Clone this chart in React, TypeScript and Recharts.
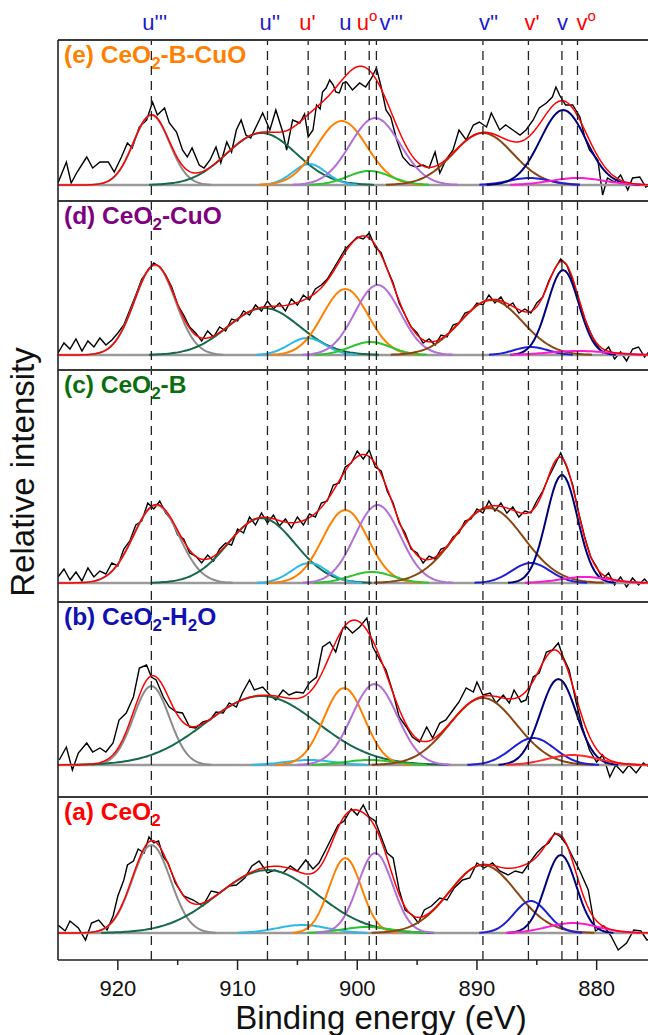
import React from "react";
import { LineChart, Line, XAxis, YAxis, ReferenceLine } from "recharts";

const FONT = 'Arial, "Liberation Sans", Helvetica, sans-serif';

// peak assignment lines (eV)
const PEAK_BASE = ["u", "u", "u", "u", "u", "v", "v", "v", "v", "v"];
const PEAK_MARK = ["'''", "''", "'", "", "o", "'''", "''", "'", "", "o"];
const PEAK_EV = [917.2, 907.5, 904.1, 901.0, 899.0, 898.4, 889.5, 885.7, 882.9, 881.6];
const PEAK_LABEL_COLOR = ["#1a1acd", "#1a1acd", "#ff0000", "#1a1acd", "#ff0000", "#1a1acd", "#1a1acd", "#ff0000", "#1a1acd", "#ff0000"];
const PEAK_LABEL_DX = [-9, -8, -9, -6, 8, 3, -4, -4, -5, -1];

// component colours: u''', u'', u', u, u0, v''', v'', v', v, v0
const COMPONENT_COLORS = ["#8c8c8c", "#17694a", "#2bb9ea", "#ff8000", "#2dc42d", "#b36fd8", "#8b4513", "#1f1fd6", "#00007f", "#ff1ad1"];

const X_TICKS = [880, 885, 890, 895, 900, 905, 910, 915, 920];

// (e) CeO2-B-CuO
const E_CENTER = [917.2, 908.0, 904.0, 901.3, 899.0, 898.5, 889.5, 885.6, 882.8, 881.6];
const E_HEIGHT = [70, 52, 21, 64, 14, 67, 52, 7, 75, 7];
const E_SIGMA = [1.5, 2.9, 1.4, 2.1, 1.8, 2.1, 2.5, 1.7, 1.9, 2.2];
const E_RAW_EV = [925.0, 924.3, 923.9, 923.4, 922.6, 922.1, 921.5, 920.8, 920.3, 919.7, 919.2, 918.8, 918.2, 917.6, 917.1, 916.7, 916.1, 915.7, 915.1, 914.6, 914.2, 913.8, 913.2, 912.8, 912.3, 911.8, 911.4, 910.9, 910.5, 910.1, 909.7, 909.3, 908.9, 908.3, 907.9, 907.3, 906.8, 906.2, 905.9, 905.4, 904.8, 904.4, 904.1, 903.7, 903.4, 903.1, 902.9, 902.6, 902.3, 902.0, 901.8, 901.5, 901.2, 900.9, 900.4, 899.8, 899.3, 898.8, 898.4, 898.0, 897.6, 897.2, 896.7, 896.2, 895.6, 895.1, 894.5, 894.0, 893.5, 893.1, 892.6, 892.0, 891.5, 890.9, 890.3, 889.8, 889.2, 888.8, 888.1, 887.6, 887.0, 886.4, 885.9, 885.3, 884.8, 884.2, 883.7, 883.4, 883.1, 882.6, 882.0, 881.4, 881.0, 880.6, 879.9, 879.5, 879.1, 878.5, 878.0, 877.4, 877.0, 876.4, 875.9, 875.0];
const E_RAW_I = [2, 23, 2, 13, 28, 17, 23, 23, 13, 28, 42, 37, 58, 65, 83, 70, 77, 62, 53, 35, 28, 37, 20, 17, 25, 38, 22, 43, 33, 55, 65, 50, 47, 62, 72, 55, 75, 52, 35, 65, 62, 71, 48, 55, 80, 76, 93, 97, 105, 100, 93, 92, 102, 103, 95, 102, 98, 107, 117, 98, 75, 68, 45, 28, 20, 18, 20, 17, 33, 12, 25, 35, 55, 45, 60, 63, 58, 72, 55, 60, 55, 50, 55, 65, 77, 82, 88, 98, 90, 80, 80, 68, 48, 35, 25, -10, 7, 3, 10, -5, 7, 8, -2, 3];

// half-eV grid used for the (d) and (c) raw spectra
const HALF_EV = [925, 924.5, 924, 923.5, 923, 922.5, 922, 921.5, 921, 920.5, 920, 919.5, 919, 918.5, 918, 917.5, 917, 916.5, 916, 915.5, 915, 914.5, 914, 913.5, 913, 912.5, 912, 911.5, 911, 910.5, 910, 909.5, 909, 908.5, 908, 907.5, 907, 906.5, 906, 905.5, 905, 904.5, 904, 903.5, 903, 902.5, 902, 901.5, 901, 900.5, 900, 899.5, 899, 898.5, 898, 897.5, 897, 896.5, 896, 895.5, 895, 894.5, 894, 893.5, 893, 892.5, 892, 891.5, 891, 890.5, 890, 889.5, 889, 888.5, 888, 887.5, 887, 886.5, 886, 885.5, 885, 884.5, 884, 883.5, 883, 882.5, 882, 881.5, 881, 880.5, 880, 879.5, 879, 878.5, 878, 877.5, 877, 876.5, 876, 875.5, 875];

// (d) CeO2-CuO
const D_CENTER = [916.9, 907.8, 904.2, 901.0, 898.9, 898.3, 888.8, 885.5, 882.8, 881.5];
const D_HEIGHT = [90, 47, 17, 66, 13, 70, 55, 8, 85, 4];
const D_SIGMA = [1.7, 3.0, 1.5, 1.9, 1.7, 1.9, 2.6, 1.4, 1.3, 2.5];
const D_RAW_I = [2, 12, 6, 16, 4, 14, 8, 17, 10, 15, 22, 30, 45, 60, 76, 84, 92, 88, 80, 68, 50, 40, 28, 22, 14, 24, 18, 28, 24, 36, 34, 44, 40, 50, 44, 54, 46, 52, 44, 56, 50, 60, 55, 66, 70, 76, 86, 96, 106, 112, 118, 116, 122, 108, 102, 86, 72, 52, 40, 28, 22, 12, 16, 10, 20, 18, 30, 32, 42, 44, 52, 50, 60, 52, 58, 48, 52, 42, 46, 42, 52, 58, 74, 86, 96, 90, 74, 56, 36, 22, 10, 2, 8, -4, 3, -6, 6, 8, -2, 5, 0];

// (c) CeO2-B
const C_CENTER = [916.8, 908.0, 904.0, 901.0, 898.8, 898.3, 889.0, 885.5, 882.9, 881.0];
const C_HEIGHT = [78, 65, 20, 73, 11, 78, 75, 20, 108, 6];
const C_SIGMA = [1.9, 2.8, 1.5, 1.9, 1.8, 1.9, 2.9, 1.6, 1.3, 2.0];
const C_RAW_I = [6, 14, 3, 11, 2, 15, 6, 12, 9, 20, 17, 34, 42, 58, 62, 80, 74, 82, 70, 63, 48, 44, 30, 27, 20, 28, 22, 34, 40, 38, 54, 50, 66, 58, 70, 60, 68, 57, 64, 55, 66, 58, 69, 66, 80, 82, 98, 100, 116, 120, 132, 124, 133, 116, 112, 92, 80, 60, 50, 34, 30, 20, 27, 24, 34, 36, 46, 50, 62, 64, 74, 70, 82, 72, 80, 70, 76, 66, 72, 70, 82, 92, 106, 118, 130, 116, 98, 70, 46, 26, 16, 4, 10, -2, 6, -4, 5, -2, 4, -3, 2];

// (b) CeO2-H2O
const B_CENTER = [917.2, 908.0, 904.0, 901.1, 899.0, 898.55, 889.5, 885.3, 883.2, 882.0];
const B_HEIGHT = [79, 69, 5, 77, 5, 81, 67, 27, 86, 10];
const B_SIGMA = [1.5, 4.7, 2.0, 1.7, 2.0, 1.9, 2.8, 1.8, 1.5, 2.1];
const B_RAW_EV = [924.9, 924.3, 923.8, 923.3, 922.6, 922.1, 921.5, 921.0, 920.4, 919.9, 919.3, 918.7, 918.2, 917.6, 917.2, 916.8, 916.2, 915.7, 915.1, 914.6, 914.0, 913.5, 912.9, 912.3, 911.8, 911.2, 910.7, 910.1, 909.6, 909.0, 908.6, 907.9, 907.3, 906.8, 906.2, 905.7, 905.1, 904.5, 904.0, 903.4, 902.9, 902.3, 901.8, 901.2, 900.9, 900.4, 899.8, 899.2, 898.7, 898.1, 897.6, 897.0, 896.5, 895.9, 895.4, 894.8, 894.2, 893.7, 893.1, 892.6, 892.0, 891.5, 890.9, 890.3, 890.0, 889.5, 888.9, 888.4, 887.8, 887.3, 886.9, 886.3, 885.9, 885.3, 884.8, 884.2, 883.7, 883.2, 882.8, 882.3, 881.7, 881.2, 880.6, 880.0, 879.5, 878.9, 878.4, 877.8, 877.3, 876.7, 876.1, 875.5];
const B_RAW_I = [5, 18, -5, 12, 22, 13, 17, 13, 22, 45, 52, 68, 97, 100, 88, 85, 68, 58, 53, 52, 38, 37, 43, 45, 53, 52, 62, 58, 72, 85, 75, 78, 70, 65, 75, 70, 73, 72, 82, 88, 118, 123, 113, 137, 138, 132, 138, 147, 118, 105, 95, 72, 48, 38, 28, 23, 38, 27, 42, 45, 55, 63, 77, 73, 83, 70, 72, 62, 70, 62, 75, 63, 65, 88, 92, 113, 115, 122, 108, 95, 62, 38, 15, 3, 10, -12, 0, -8, 0, -8, 2, -3];

// (a) CeO2
const A_CENTER = [917.2, 907.5, 904.6, 901.0, 899.2, 898.5, 889.5, 885.5, 883.0, 882.0];
const A_HEIGHT = [88, 63, 8, 75, 6, 80, 68, 32, 78, 10];
const A_SIGMA = [1.6, 4.2, 2.1, 1.35, 2.0, 1.45, 2.8, 1.4, 1.3, 2.1];
const A_RAW_EV = [925.0, 924.4, 924.0, 923.3, 922.7, 922.2, 921.6, 920.9, 920.4, 920.0, 919.5, 919.2, 918.7, 918.3, 917.8, 917.4, 917.0, 916.6, 916.2, 915.8, 915.2, 914.5, 913.7, 912.9, 912.2, 911.5, 910.7, 910.1, 909.4, 908.8, 908.2, 907.5, 906.9, 906.2, 905.6, 905.0, 904.3, 903.7, 903.2, 902.6, 902.1, 901.6, 901.1, 900.5, 900.0, 899.5, 899.0, 898.5, 898.0, 897.5, 897.0, 896.5, 896.0, 895.4, 894.9, 894.4, 893.8, 893.1, 892.5, 891.9, 891.2, 890.6, 890.0, 889.4, 888.7, 888.1, 887.4, 886.8, 886.2, 885.5, 885.0, 884.5, 884.0, 883.5, 883.0, 882.5, 882.0, 881.4, 880.7, 880.1, 879.4, 878.8, 878.2, 877.5, 876.9, 876.3, 875.8, 875.0];
const A_RAW_I = [8, 2, 12, 5, -7, 10, 13, 3, 17, 37, 53, 68, 72, 84, 80, 96, 90, 92, 76, 70, 50, 37, 33, 27, 42, 40, 47, 48, 55, 67, 72, 60, 63, 60, 67, 62, 73, 64, 70, 84, 96, 108, 112, 124, 118, 128, 116, 112, 96, 80, 75, 43, 23, 18, 10, 23, 27, 35, 33, 45, 53, 55, 70, 65, 70, 62, 58, 62, 60, 72, 80, 86, 90, 100, 96, 88, 76, 62, 43, 2, 7, -3, -17, -10, 3, 2, -7, -2];

// flat background under every panel
const BASELINE_EV = [875, 925];
const BASELINE_I = [0, 0];

// layout of the stacked frames (px)
const PLOT_TOP = 40;
const PLOT_BOTTOM = 960;
const PLOT_LEFT = 58;
const PLOT_WIDTH = 598.5;

type Panel = {
  id: string;
  parts: [string, boolean][];
  color: string;
  top: number;
  base: number;
  center: number[];
  height: number[];
  sigma: number[];
  rawEv: number[];
  rawI: number[];
  v0Color: string;
};

const PANELS: Panel[] = [
  { id: "e", parts: [["(e) CeO", false], ["2", true], ["-B-CuO", false]], color: "#ff8000", top: 40, base: 185, center: E_CENTER, height: E_HEIGHT, sigma: E_SIGMA, rawEv: E_RAW_EV, rawI: E_RAW_I, v0Color: "#ff1ad1" },
  { id: "d", parts: [["(d) CeO", false], ["2", true], ["-CuO", false]], color: "#800080", top: 201, base: 355, center: D_CENTER, height: D_HEIGHT, sigma: D_SIGMA, rawEv: HALF_EV, rawI: D_RAW_I, v0Color: "#ff1ad1" },
  { id: "c", parts: [["(c) CeO", false], ["2", true], ["-B", false]], color: "#0a6e0a", top: 370, base: 583, center: C_CENTER, height: C_HEIGHT, sigma: C_SIGMA, rawEv: HALF_EV, rawI: C_RAW_I, v0Color: "#ff1ad1" },
  { id: "b", parts: [["(b) CeO", false], ["2", true], ["-H", false], ["2", true], ["O", false]], color: "#1010b4", top: 602, base: 765, center: B_CENTER, height: B_HEIGHT, sigma: B_SIGMA, rawEv: B_RAW_EV, rawI: B_RAW_I, v0Color: "#ff2a2a" },
  { id: "a", parts: [["(a) CeO", false], ["2", true]], color: "#ff0000", top: 797, base: 933, center: A_CENTER, height: A_HEIGHT, sigma: A_SIGMA, rawEv: A_RAW_EV, rawI: A_RAW_I, v0Color: "#ff1ad1" },
];

// sampling grid for the fitted gaussian components
const GRID: number[] = [];
for (let i = 0; i <= 250; i++) GRID.push(875 + i * 0.2);

const baseline = BASELINE_EV.map((x, j) => ({ x, y: BASELINE_I[j] }));

const curves = PANELS.map((p) => {
  const full = p.center.map((c, k) =>
    GRID.map((x) => ({ x, y: p.height[k] * Math.exp(-((x - c) ** 2) / (2 * p.sigma[k] ** 2)) }))
  );
  const envelope = GRID.map((x, j) => ({ x, y: full.reduce((s, cc) => s + cc[j].y, 0) }));
  // draw each component only where it rises off the background
  const comps = full.map((pts) => pts.filter((pt) => pt.y > 0.25));
  const raw = p.rawEv.map((x, j) => ({ x, y: p.rawI[j] }));
  return { comps, envelope, raw };
});

const AxisTick = (props: any) => {
  const { x, y, payload } = props;
  const major = payload.value % 10 === 0;
  return (
    <g>
      <line x1={x} x2={x} y1={y} y2={y + (major ? 10 : 5)} stroke="#222" strokeWidth={1.5} />
      {major && (
        <text x={x} y={y + 36} textAnchor="middle" fontSize={22} fontFamily={FONT} fill="#111">
          {payload.value}
        </text>
      )}
    </g>
  );
};

const PeakLabel = (props: any) => {
  const { viewBox, i } = props;
  const x = viewBox.x + PEAK_LABEL_DX[i];
  const mark = PEAK_MARK[i];
  return (
    <text x={x} y={viewBox.y - 10} fontSize={22} fontFamily={FONT} fill={PEAK_LABEL_COLOR[i]} textAnchor={i === 4 ? "end" : "start"}>
      {PEAK_BASE[i]}
      {mark === "o" ? (
        <tspan dy={-9} fontSize={15}>o</tspan>
      ) : (
        mark
      )}
    </text>
  );
};

export default function App() {
  const lines: React.ReactNode[] = [];
  PANELS.forEach((p, pi) => {
    const c = curves[pi];
    lines.push(
      <Line key={`${p.id}-raw`} yAxisId={p.id} data={c.raw} dataKey="y" stroke="#000" strokeWidth={1.4} dot={false} isAnimationActive={false} type="linear" />
    );
    lines.push(
      <Line key={`${p.id}-bg`} yAxisId={p.id} data={baseline} dataKey="y" stroke="#9a9a9a" strokeWidth={2.6} dot={false} isAnimationActive={false} type="linear" />
    );
    c.comps.forEach((pts, k) => {
      lines.push(
        <Line
          key={`${p.id}-c${k}`}
          yAxisId={p.id}
          data={pts}
          dataKey="y"
          stroke={k === 9 ? p.v0Color : COMPONENT_COLORS[k]}
          strokeWidth={2}
          dot={false}
          isAnimationActive={false}
          type="linear"
        />
      );
    });
    lines.push(
      <Line key={`${p.id}-env`} yAxisId={p.id} data={c.envelope} dataKey="y" stroke="#ff0000" strokeWidth={1.5} dot={false} isAnimationActive={false} type="linear" />
    );
  });

  return (
    <div style={{ position: "absolute", left: 0, top: 0, width: 648, height: 1035, overflow: "hidden", background: "#fff" }}>
      <LineChart width={PLOT_LEFT + PLOT_WIDTH + 4} height={1035} margin={{ top: PLOT_TOP, right: 4, left: PLOT_LEFT, bottom: 0 }}>
        <XAxis
          dataKey="x"
          type="number"
          domain={[875, 925]}
          reversed
          allowDataOverflow
          ticks={X_TICKS}
          interval={0}
          tick={<AxisTick />}
          tickLine={false}
          tickSize={0}
          tickMargin={0}
          height={1035 - PLOT_BOTTOM}
          axisLine={{ stroke: "#222", strokeWidth: 1.6 }}
        />
        {PANELS.map((p) => (
          <YAxis key={p.id} yAxisId={p.id} hide type="number" allowDataOverflow domain={[-(PLOT_BOTTOM - p.base), p.base - PLOT_TOP]} />
        ))}
        {lines}
        {PEAK_EV.map((ev, i) => (
          <ReferenceLine key={`pk${i}`} yAxisId="e" x={ev} stroke="#222" strokeWidth={1.3} strokeDasharray="9 6" label={<PeakLabel i={i} />} />
        ))}
        {PANELS.map((p) => (
          <ReferenceLine key={`fr${p.id}`} yAxisId={p.id} y={p.base - p.top} stroke="#3a3a3a" strokeWidth={1.8} />
        ))}
        <ReferenceLine yAxisId="e" x={925} stroke="#222" strokeWidth={1.6} />
      </LineChart>
      <svg width={648} height={1035} style={{ position: "absolute", left: 0, top: 0, pointerEvents: "none" }}>
        {PANELS.map((p) => (
          <text key={p.id} x={64} y={p.top + 23} fontSize={24.5} fontWeight="bold" fontFamily={FONT} fill={p.color}>
            {p.parts.map(([t, sub], j) =>
              sub ? (
                <tspan key={j} fontSize={17} dy={6}>{t}</tspan>
              ) : (
                <tspan key={j} dy={j > 0 && p.parts[j - 1][1] ? -6 : 0}>{t}</tspan>
              )
            )}
          </text>
        ))}
        <text x={381} y={1029} textAnchor="middle" fontSize={33} fontFamily={FONT} fill="#111">
          Binding energy (eV)
        </text>
        <text x={0} y={0} transform="translate(34, 472) rotate(-90)" textAnchor="middle" fontSize={33} fontFamily={FONT} fill="#111">
          Relative intensity
        </text>
      </svg>
    </div>
  );
}
